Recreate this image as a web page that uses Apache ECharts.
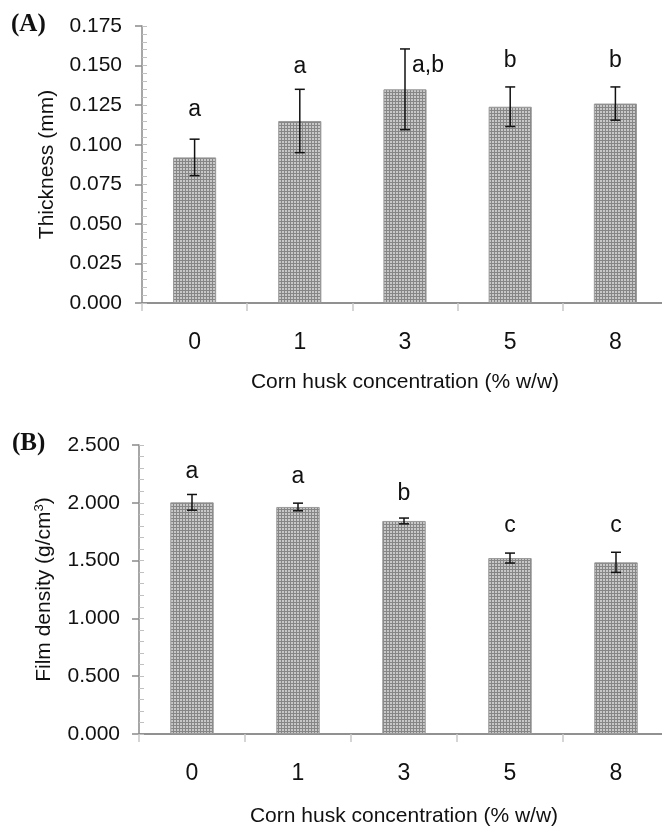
<!DOCTYPE html>
<html>
<head>
<meta charset="utf-8">
<script src="https://cdn.jsdelivr.net/npm/echarts@6/dist/echarts.min.js"></script>
<style>
  html, body { margin: 0; padding: 0; background: #fff; }
  #main { width: 662px; height: 826px; }
</style>
</head>
<body>
<div id="main"></div>
<script>
// categories (corn husk %)
var categories = ['0', '1', '3', '5', '8'];

// (A) thickness, mm
var thickness = [0.092, 0.115, 0.135, 0.124, 0.126];
var thicknessErr = [0.0115, 0.020, 0.0255, 0.0125, 0.0105];
var thicknessLetters = ['a', 'a', 'a,b', 'b', 'b'];
var thicknessLetterY = [0.122, 0.149, 0.150, 0.153, 0.153];
var thicknessTicks = [0, 0.175, 0.025];

// (B) film density, g/cm3
var density = [2.004, 1.964, 1.843, 1.522, 1.485];
var densityErr = [0.068, 0.033, 0.025, 0.043, 0.087];
var densityLetters = ['a', 'a', 'b', 'c', 'c'];
var densityLetterY = [2.270, 2.226, 2.082, 1.800, 1.800];
var densityTicks = [0, 2.5, 0.5];

var FONT = '"Liberation Sans", Arial, sans-serif';
var AXIS = '#8a8a8a';

// dotted bar fill
function makePattern() {
    var c = document.createElement('canvas');
    c.width = 3;
    c.height = 3;
    var ctx = c.getContext('2d');
    ctx.fillStyle = '#868686';
    ctx.fillRect(0, 0, 3, 3);
    ctx.fillStyle = '#c8c8c8';
    ctx.fillRect(0, 0, 2, 2);
    return c;
}
var barFill = { image: makePattern(), repeat: 'repeat' };

function xAxis(gi, gap) {
    return {
        type: 'category', gridIndex: gi, data: categories,
        name: 'Corn husk concentration (% w/w)', nameLocation: 'middle', nameGap: gap,
        nameTextStyle: { fontFamily: FONT, fontSize: 21, color: '#111' },
        axisLine: { lineStyle: { color: AXIS, width: 1.5 } },
        axisTick: { show: true, length: 8, lineStyle: { color: '#c8c8c8', width: 1.5 } },
        axisLabel: { fontFamily: FONT, fontSize: 23, color: '#111', margin: 28 },
        splitLine: { show: false }
    };
}

// top frame line only
function topAxis(gi) {
    return {
        type: 'category', gridIndex: gi, position: 'top', data: categories,
        axisLine: { show: true, lineStyle: { color: AXIS, width: 1.5 } },
        axisTick: { show: false }, axisLabel: { show: false }, splitLine: { show: false }
    };
}

function yAxis(gi, ticks, name, gap, margin) {
    return {
        type: 'value', gridIndex: gi, position: 'left', min: ticks[0], max: ticks[1], interval: ticks[2],
        name: name, nameLocation: 'middle', nameGap: gap,
        nameTextStyle: {
            fontFamily: FONT, fontSize: 21, color: '#111',
            rich: { sup: { fontFamily: FONT, fontSize: 13, color: '#111', verticalAlign: 'top', lineHeight: 22 } }
        },
        axisLine: { show: true, lineStyle: { color: AXIS, width: 1.5 } },
        axisTick: { show: true, length: 7, lineStyle: { color: AXIS, width: 1.5 } },
        axisLabel: {
            fontFamily: FONT, fontSize: 21, color: '#111', margin: margin,
            formatter: function(v) { return v.toFixed(3); }
        },
        splitLine: { show: false }
    };
}

// overlay axis for the small inside ticks
function minorAxis(gi, ticks) {
    return {
        type: 'value', gridIndex: gi, position: 'left', min: ticks[0], max: ticks[1], interval: ticks[2],
        axisLine: { show: false },
        axisTick: { show: true, inside: true, length: 5, lineStyle: { color: '#c0c0c0' } },
        minorTick: { show: true, splitNumber: 5, length: 5, lineStyle: { color: '#c0c0c0' } },
        axisLabel: { show: false },
        splitLine: { show: false }
    };
}

function barSeries(ai, vals) {
    return {
        type: 'bar', xAxisIndex: ai, yAxisIndex: ai * 2, data: vals, barWidth: '41%',
        itemStyle: { color: barFill, borderColor: '#999', borderWidth: 1 },
        silent: true
    };
}

function errSeries(ai, vals, errs) {
    return {
        type: 'custom', xAxisIndex: ai, yAxisIndex: ai * 2, z: 10, silent: true,
        data: vals.map(function(v, i) { return [i, v - errs[i], v + errs[i]]; }),
        renderItem: function(params, api) {
            var lo = api.coord([api.value(0), api.value(1)]);
            var hi = api.coord([api.value(0), api.value(2)]);
            var w = 5;
            var st = { stroke: '#111', lineWidth: 1.5 };
            return {
                type: 'group', children: [
                    { type: 'line', shape: { x1: hi[0], y1: hi[1], x2: lo[0], y2: lo[1] }, style: st },
                    { type: 'line', shape: { x1: hi[0] - w, y1: hi[1], x2: hi[0] + w, y2: hi[1] }, style: st },
                    { type: 'line', shape: { x1: lo[0] - w, y1: lo[1], x2: lo[0] + w, y2: lo[1] }, style: st }
                ]
            };
        }
    };
}

function letterSeries(ai, letters, ys) {
    return {
        type: 'custom', xAxisIndex: ai, yAxisIndex: ai * 2, z: 11, silent: true,
        data: ys.map(function(y, i) { return [i, y]; }),
        renderItem: function(params, api) {
            var p = api.coord([api.value(0), api.value(1)]);
            var txt = letters[params.dataIndex];
            var side = txt.indexOf(',') >= 0;
            return {
                type: 'text', x: side ? p[0] + 7 : p[0], y: p[1],
                style: {
                    text: txt, fontFamily: FONT, fontSize: 23, fill: '#111',
                    align: side ? 'left' : 'center', verticalAlign: 'middle'
                }
            };
        }
    };
}

var chart = echarts.init(document.getElementById('main'), null, { renderer: 'canvas' });
chart.setOption({
    animation: false,
    backgroundColor: '#fff',
    grid: [
        { left: 142, top: 26, width: 526, height: 277, outerBoundsMode: 'none', containLabel: false },
        { left: 139, top: 445, width: 530, height: 289, outerBoundsMode: 'none', containLabel: false }
    ],
    graphic: [
        { type: 'text', left: 11, top: 12, style: { text: '(A)', font: 'bold 25px "Liberation Serif", "Times New Roman", serif', fill: '#111' } },
        { type: 'text', left: 12, top: 431, style: { text: '(B)', font: 'bold 25px "Liberation Serif", "Times New Roman", serif', fill: '#111' } }
    ],
    xAxis: [xAxis(0, 69), xAxis(1, 72), topAxis(0), topAxis(1)],
    yAxis: [
        yAxis(0, thicknessTicks, 'Thickness (mm)', 84, 20),
        minorAxis(0, thicknessTicks),
        yAxis(1, densityTicks, 'Film density (g/cm{sup|3})', 84, 19),
        minorAxis(1, densityTicks)
    ],
    series: [
        barSeries(0, thickness),
        errSeries(0, thickness, thicknessErr),
        letterSeries(0, thicknessLetters, thicknessLetterY),
        barSeries(1, density),
        errSeries(1, density, densityErr),
        letterSeries(1, densityLetters, densityLetterY)
    ]
});
</script>
</body>
</html>
